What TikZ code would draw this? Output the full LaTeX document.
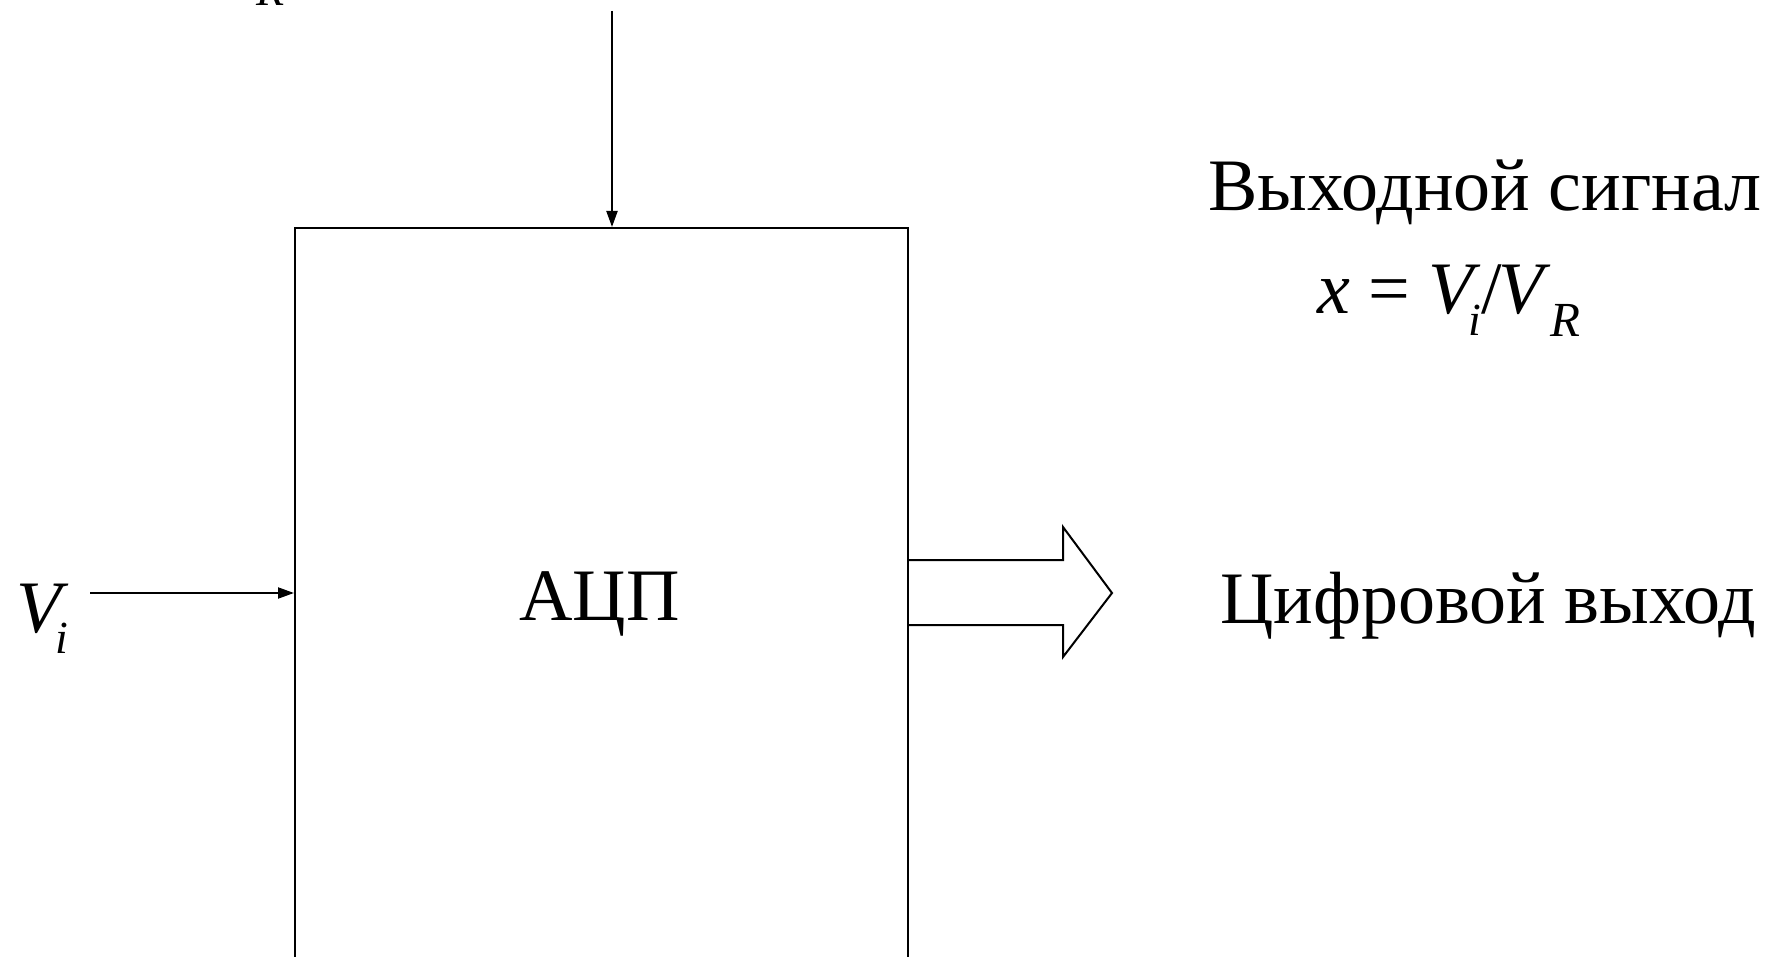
\documentclass[tikz,border=0pt]{standalone}
\usepackage{fontspec}
\setmainfont{Liberation Serif}
\usetikzlibrary{arrows.meta}
\newcommand{\subfont}{\fontsize{46}{55}\selectfont\itshape}
\newcommand{\subfontR}{\fontsize{49}{58}\selectfont\itshape}
\begin{document}
\begin{tikzpicture}[x=1pt,y=-1pt,
  line/.style={line width=2pt},
  conn/.style={line width=2pt,-{Triangle[length=16pt,width=11pt]}},
  big/.style={font=\fontsize{74}{88}\selectfont,inner sep=0pt,anchor=base west},
  sub/.style={font=\subfont,inner sep=0pt,anchor=base west}]
\useasboundingbox (0,0) rectangle (1768,957);
\clip (0,0) rectangle (1768,957);
% box
\node[line,draw,rectangle,minimum width=613pt,minimum height=900pt,anchor=north west,inner sep=0pt] (adc) at (294,227) {};
\node[big] (lbl) at (519,620) {АЦП};
% top fragment
\node[sub] (topfrag) at (256,6) {R};
% top input
\coordinate (topstart) at (612,11);
\draw[conn] (topstart) -- (topstart |- adc.north);
% Vi input
\node[big,font=\fontsize{74}{88}\selectfont\itshape] (vi) at (16,632) {V};
\node[sub] (vii) at (55,653) {i};
\coordinate (vistart) at (90,593);
\draw[conn] (vistart) -- (adc.west |- vistart);
% big output arrow
\draw[line,line join=miter] (adc.east |- 0,560) -- (1063,560) -- (1063,527) -- (1112,593) -- (1063,657) -- (1063,625) -- (adc.east |- 0,625);
% right texts
\node[big] (title) at (1208,211) {Выходной сигнал};
\node[big] (formula) at (1317,313) {\textit{x} = \textit{V}\llap{\raisebox{-22pt}{\subfont i}}/\hspace{-0.04em}\textit{V}\hspace{-0.01em}\raisebox{-24pt}{\subfontR R}};
\node[big] (out) at (1220,623) {Цифровой выход};
\end{tikzpicture}
\end{document}
